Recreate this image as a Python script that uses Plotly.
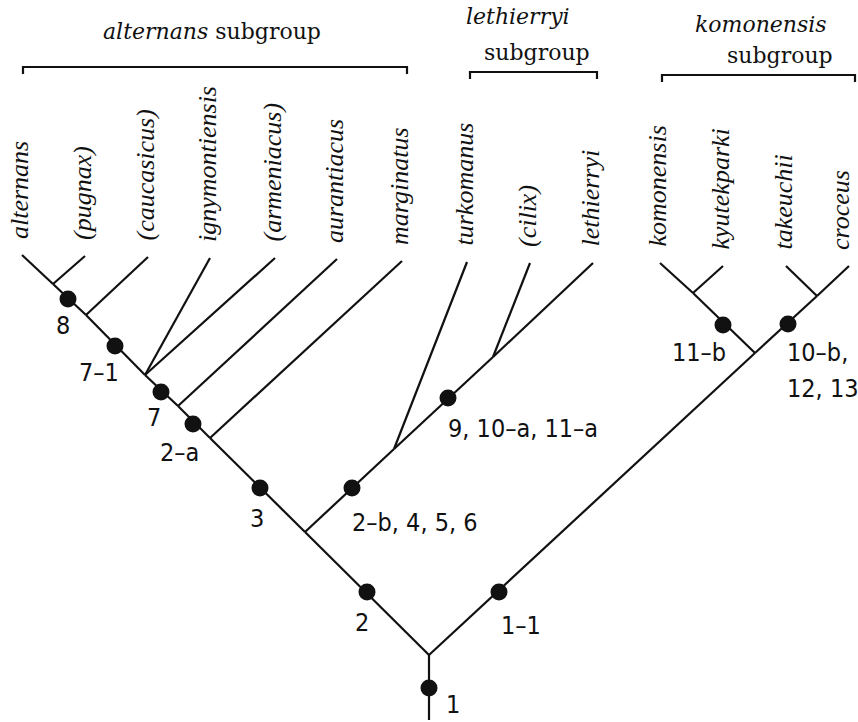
import plotly.graph_objects as go

# ---- tree data (layout positions of nodes) ----
node_names = ["base", "root", "Lleth", "Lmarg", "Laur", "Lign", "Lcauc", "Lpug",
              "Tturk", "Tcil", "Kjoin", "Kkyu", "Ktak",
              "alternans", "pugnax", "caucasicus", "ignymontiensis", "armeniacus",
              "aurantiacus", "marginatus", "turkomanus", "cilix", "lethierryi",
              "komonensis", "kyutekparki", "takeuchii", "croceus"]
node_x = [429, 429, 305, 210, 178, 145, 86, 53,
          394, 493, 755, 693, 817,
          22, 85, 148, 210, 275, 337, 402, 467, 530, 593, 660, 723, 786, 849]
node_y = [720, 655, 532, 438, 406, 375, 315, 284,
          449, 357, 353, 293, 296,
          255, 256, 257, 258, 258, 259, 261, 262, 263, 263, 263, 266, 266, 266]

edges = [("base", "root"), ("root", "Lleth"), ("Lleth", "Lmarg"), ("Lmarg", "Laur"),
         ("Laur", "Lign"), ("Lign", "Lcauc"), ("Lcauc", "Lpug"), ("Lpug", "alternans"),
         ("Lpug", "pugnax"), ("Lcauc", "caucasicus"), ("Lign", "ignymontiensis"),
         ("Lign", "armeniacus"), ("Laur", "aurantiacus"), ("Lmarg", "marginatus"),
         ("Lleth", "Tturk"), ("Tturk", "Tcil"), ("Tcil", "lethierryi"),
         ("Tturk", "turkomanus"), ("Tcil", "cilix"),
         ("root", "Kjoin"), ("Kjoin", "Ktak"), ("Ktak", "croceus"), ("Ktak", "takeuchii"),
         ("Kjoin", "Kkyu"), ("Kkyu", "komonensis"), ("Kkyu", "kyutekparki")]

taxa_labels = ["alternans", "(pugnax)", "(caucasicus)", "ignymontiensis", "(armeniacus)",
               "aurantiacus", "marginatus", "turkomanus", "(cilix)", "lethierryi",
               "komonensis", "kyutekparki", "takeuchii", "croceus"]
taxa_nodes = ["alternans", "pugnax", "caucasicus", "ignymontiensis", "armeniacus",
              "aurantiacus", "marginatus", "turkomanus", "cilix", "lethierryi",
              "komonensis", "kyutekparki", "takeuchii", "croceus"]

# character-state dots (apomorphies)
dot_x = [429, 367, 499, 260, 352, 193, 161, 115, 68, 448, 723, 788]
dot_y = [688, 592, 592, 488, 488, 424, 392, 346, 299, 398, 325, 324]
dot_labels = ["1", "2", "1–1", "3", "2–b, 4, 5, 6", "2–a", "7", "7–1", "8",
              "9, 10–a, 11–a", "11–b", "10–b,<br>12, 13"]
lab_x = [444, 362, 499, 257, 350, 179, 154, 99, 63, 446, 699, 785]
lab_y = [704, 622, 625, 518, 522, 452, 417, 372, 325, 428, 352, 352]
lab_anchor = ["left", "center", "left", "center", "left", "center", "center",
              "center", "center", "left", "center", "left"]

# subgroup brackets
groups = ["<i>alternans</i> subgroup", "<i>lethierryi</i><br>  subgroup",
          "<i>komonensis</i><br>     subgroup"]
br_x0 = [23, 470, 662]
br_x1 = [407, 597, 855]
br_y = [67, 72, 75]

pos = dict(zip(node_names, zip(node_x, node_y)))
INK = "#111111"
W, H = 858, 722

fig = go.Figure()

ex, ey = [], []
for a, b in edges:
    ex += [pos[a][0], pos[b][0], None]
    ey += [pos[a][1], pos[b][1], None]
fig.add_trace(go.Scatter(x=ex, y=ey, mode="lines",
                         line=dict(color=INK, width=2.2), hoverinfo="skip"))

bx, by = [], []
for x0, x1, y in zip(br_x0, br_x1, br_y):
    bx += [x0, x0, x1, x1, None]
    by += [y + 7, y, y, y + 7, None]
fig.add_trace(go.Scatter(x=bx, y=by, mode="lines",
                         line=dict(color=INK, width=2.2), hoverinfo="skip"))

fig.add_trace(go.Scatter(x=dot_x, y=dot_y, mode="markers",
                         marker=dict(color=INK, size=17), hoverinfo="skip"))

ann = []
for lab, nd in zip(taxa_labels, taxa_nodes):
    x, y = pos[nd]
    ann.append(dict(x=min(x - 3, W - 18), y=y - 14, text="<i>" + lab + "</i>",
                    textangle=-90, xanchor="center", yanchor="bottom", showarrow=False,
                    font=dict(family="Liberation Serif", size=26, color=INK)))

for t, x, y, a in zip(dot_labels, lab_x, lab_y, lab_anchor):
    if "<br>" in t:
        l1, l2 = t.split("<br>")
        for tt, yy in ((l1, y), (l2, y + 36)):
            ann.append(dict(x=x, y=yy, text=tt, xanchor=a, yanchor="middle",
                            showarrow=False,
                            font=dict(family="DejaVu Sans Condensed", size=25, color=INK)))
    else:
        ann.append(dict(x=x, y=y, text=t, xanchor=a, yanchor="middle", showarrow=False,
                        font=dict(family="DejaVu Sans Condensed", size=25, color=INK)))

title_pos = [[(212, 31)], [(518, 16), (537, 52)], [(761, 24), (780, 55)]]
for g, tp in zip(groups, title_pos):
    parts = g.split("<br>")
    for p, (x, y) in zip(parts, tp):
        ann.append(dict(x=x, y=y, text=p.strip(), xanchor="center", yanchor="middle",
                        showarrow=False,
                        font=dict(family="DejaVu Serif", size=22, color=INK)))

fig.update_layout(
    width=W, height=H, margin=dict(l=0, r=0, t=0, b=0),
    paper_bgcolor="white", plot_bgcolor="white", showlegend=False,
    xaxis=dict(range=[0, W], visible=False, fixedrange=True),
    yaxis=dict(range=[H, 0], visible=False, fixedrange=True),
    annotations=ann,
)

fig.write_html("out.html", config={"displayModeBar": False, "staticPlot": True},
               post_script="document.body.style.margin='0';document.body.style.overflow='hidden';")
